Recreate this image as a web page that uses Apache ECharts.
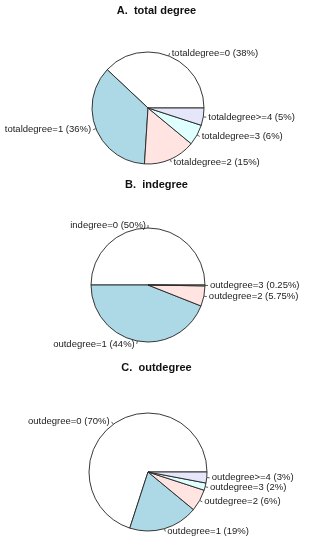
<!DOCTYPE html>
<html><head><meta charset="utf-8">
<script src="https://cdn.jsdelivr.net/npm/echarts@6/dist/echarts.min.js"></script>
<style>html,body{margin:0;padding:0;background:#fff}#c{width:313px;height:550px}</style>
</head><body><div id="c"></div>
<script>
const titles = ['A.  total degree', 'B.  indegree', 'C.  outdegree'];
const catsA = ['totaldegree=0', 'totaldegree=1', 'totaldegree=2', 'totaldegree=3', 'totaldegree>=4'];
const valsA = [38, 36, 15, 6, 5];
const catsB = ['indegree=0', 'outdegree=1', 'outdegree=2', 'outdegree=3'];
const valsB = [50, 44, 5.75, 0.25];
const catsC = ['outdegree=0', 'outdegree=1', 'outdegree=2', 'outdegree=3', 'outdegree>=4'];
const valsC = [70, 19, 6, 2, 3];
const colors = ['#FFFFFF', '#ADD8E6', '#FFE4E1', '#E0FFFF', '#E6E6FA'];

const font = 'Liberation Sans, Arial, sans-serif';
function mk(cats, vals, center, radius) {
  return {
    type: 'pie', center: center, radius: radius,
    startAngle: 0, clockwise: false, avoidLabelOverlap: false,
    animation: false, silent: true,
    labelLayout: { hideOverlap: false },
    data: cats.map((c, i) => ({ name: c, value: vals[i], itemStyle: { color: colors[i] } })),
    itemStyle: { borderColor: '#222', borderWidth: 0.9 },
    label: { show: true, position: 'outside', formatter: p => p.name + ' (' + p.value + '%)',
      fontFamily: font, fontSize: 9.5, lineHeight: 9, color: '#222', distanceToLabelLine: 2 },
    labelLine: { show: true, length: 3, length2: 0, smooth: false, lineStyle: { color: '#333', width: 0.8 } }
  };
}
const chart = echarts.init(document.getElementById('c'), null, { renderer: 'canvas' });
chart.setOption({
  animation: false,
  title: [
    { text: titles[0], left: 'center', top: 5 },
    { text: titles[1], left: 'center', top: 179 },
    { text: titles[2], left: 'center', top: 362 }
  ].map(t => Object.assign(t, { padding: 0, textStyle: { fontFamily: font, fontSize: 11, fontWeight: 'bold', color: '#111' } })),
  series: [
    mk(catsA, valsA, [148, 108], 56),
    mk(catsB, valsB, [148, 285], 57),
    mk(catsC, valsC, [148, 472], 59)
  ]
});
</script></body></html>
